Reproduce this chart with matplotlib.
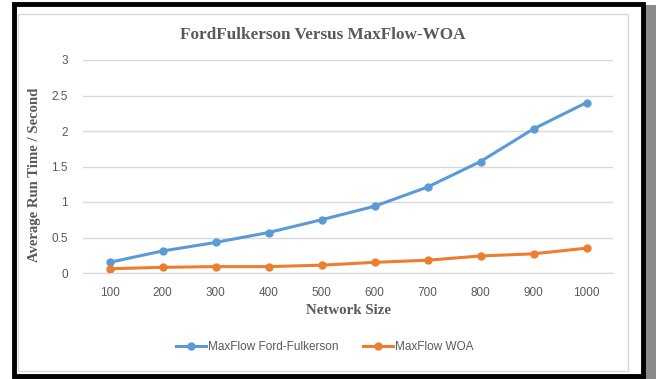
import matplotlib.pyplot as plt
from matplotlib.patches import Rectangle
import numpy as np

sizes = ['100', '200', '300', '400', '500', '600', '700', '800', '900', '1000']
ford_fulkerson = [0.15, 0.31, 0.43, 0.57, 0.75, 0.94, 1.21, 1.57, 2.03, 2.40]
maxflow_woa = [0.06, 0.08, 0.09, 0.09, 0.11, 0.15, 0.18, 0.24, 0.27, 0.35]

blue = '#5B9BD5'
orange = '#ED7D31'
grey = '#595959'
serif = 'Liberation Serif'
sans = 'Liberation Sans'

fig = plt.figure(figsize=(6.56, 3.79), dpi=100)
W, H = 656, 379

def px(x, y):
    # pixel coords (from top left) to figure fraction
    return x / W, 1 - y / H

# outer black frame with a little shadow, inner light chart border
fig.patches.append(Rectangle(px(16, 379), 640/W, 374/H, transform=fig.transFigure,
                             facecolor='#8a8a8a', edgecolor='none', zorder=0))
fig.patches.append(Rectangle(px(14, 376), 629/W, 372/H, transform=fig.transFigure,
                             facecolor='white', edgecolor='black', linewidth=3.5, zorder=1))
fig.patches.append(Rectangle(px(18, 371), 610/W, 357/H, transform=fig.transFigure,
                             facecolor='white', edgecolor='#d9d9d9', linewidth=1, zorder=2))

ax = fig.add_axes([83/W, 1 - 273/H, 530/W, 213/H], zorder=3)
ax.set_facecolor('none')
x = np.arange(len(sizes))
ax.plot(x, ford_fulkerson, color=blue, lw=2.2, marker='o', ms=5, label='MaxFlow Ford-Fulkerson')
ax.plot(x, maxflow_woa, color=orange, lw=2.2, marker='o', ms=5, label='MaxFlow WOA')

ax.set_xlim(-0.5, 9.5)
ax.set_ylim(0, 3)
ax.set_yticks([0, 0.5, 1, 1.5, 2, 2.5, 3])
ax.set_yticklabels(['0', '0.5', '1', '1.5', '2', '2.5', '3'])
ax.set_xticks(x)
ax.set_xticklabels(sizes)
ax.grid(axis='y', color='#d9d9d9', lw=1)
ax.set_axisbelow(True)
for s in ['top', 'right', 'left']:
    ax.spines[s].set_visible(False)
ax.spines['bottom'].set_color('#d9d9d9')
ax.tick_params(axis='y', length=0, colors=grey, labelsize=8.5, pad=11)
ax.tick_params(axis='x', length=0, colors=grey, labelsize=8.5, pad=10)
for t in ax.get_xticklabels() + ax.get_yticklabels():
    t.set_fontfamily(sans)

fig.text(*px(323, 35), 'FordFulkerson Versus MaxFlow-WOA', family=serif, weight='bold',
         size=12.3, color=grey, ha='center', va='center')
fig.text(*px(348, 311), 'Network Size', family=serif, weight='bold', size=10.7, color=grey,
         ha='center', va='center')
fig.text(*px(35, 175), 'Average Run Time / Second', family=serif, weight='bold', size=10.6,
         color=grey, ha='center', va='center', rotation=90)

leg = fig.legend(loc='center', bbox_to_anchor=px(325, 347), ncol=2, frameon=False,
                 prop={'family': sans, 'size': 8.5}, columnspacing=2.1,
                 handlelength=2.5, handletextpad=0.2)
for t in leg.get_texts():
    t.set_color(grey)

plt.savefig('out.png', dpi=100)
